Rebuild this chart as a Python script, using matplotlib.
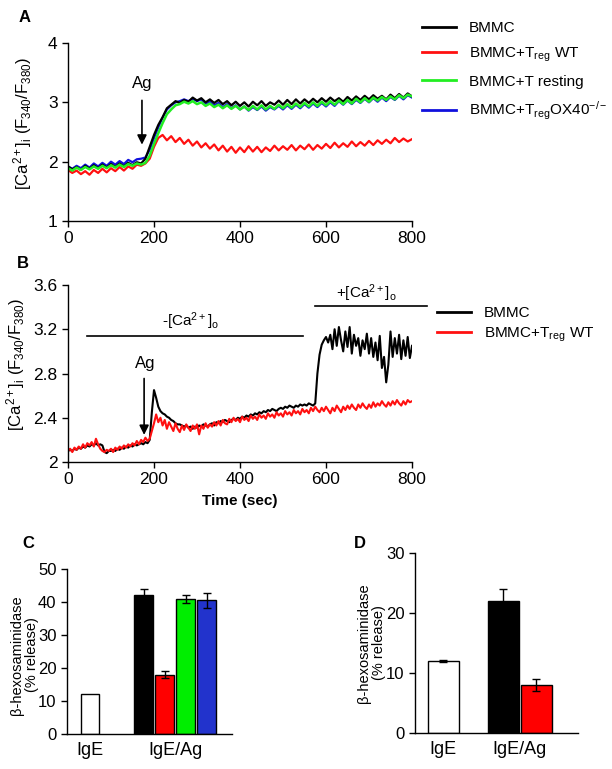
import numpy as np
import matplotlib
matplotlib.use('Agg')
import matplotlib.pyplot as plt

plt.rcParams['font.family'] = ['Liberation Sans', 'DejaVu Sans']
plt.rcParams['mathtext.fontset'] = 'custom'
plt.rcParams['mathtext.rm'] = 'Liberation Sans'
plt.rcParams['mathtext.it'] = 'Liberation Sans:italic'
plt.rcParams['mathtext.bf'] = 'Liberation Sans:bold'

# ---------------- data ----------------
# Panel A: ratio traces, sampled every 10 s from 0 to 800 s
time_a = np.arange(0, 801, 10)
a_bmmc = [1.92, 1.87, 1.91, 1.86, 1.93, 1.88, 1.94, 1.89, 1.95, 1.90,
          1.96, 1.91, 1.97, 1.92, 1.98, 1.94, 1.99, 1.97, 2.05, 2.25,
          2.45, 2.62, 2.75, 2.90, 2.96, 3.02, 2.99, 3.04, 3.01, 3.08,
          3.03, 3.07, 3.00, 3.05, 2.99, 3.04, 2.97, 3.02, 2.95, 3.01,
          2.94, 3.00, 2.93, 3.01, 2.95, 3.02, 2.94, 3.00, 2.96, 3.03,
          2.96, 3.04, 2.97, 3.05, 2.98, 3.05, 2.99, 3.06, 3.00, 3.07,
          3.01, 3.08, 3.02, 3.07, 3.01, 3.09, 3.03, 3.10, 3.04, 3.11,
          3.05, 3.12, 3.06, 3.11, 3.05, 3.13, 3.07, 3.14, 3.08, 3.15,
          3.10]
a_treg_wt = [1.86, 1.81, 1.85, 1.79, 1.84, 1.78, 1.86, 1.81, 1.88, 1.82,
             1.89, 1.84, 1.91, 1.85, 1.92, 1.88, 1.95, 1.93, 1.97, 2.05,
             2.25, 2.40, 2.45, 2.36, 2.43, 2.33, 2.40, 2.30, 2.37, 2.27,
             2.34, 2.24, 2.31, 2.22, 2.29, 2.19, 2.27, 2.17, 2.25, 2.15,
             2.24, 2.16, 2.26, 2.17, 2.25, 2.16, 2.24, 2.18, 2.27, 2.19,
             2.26, 2.20, 2.28, 2.19, 2.27, 2.21, 2.29, 2.20, 2.28, 2.22,
             2.30, 2.23, 2.32, 2.24, 2.31, 2.25, 2.34, 2.26, 2.33, 2.27,
             2.35, 2.28, 2.36, 2.30, 2.37, 2.31, 2.40, 2.33, 2.39, 2.34,
             2.38]
a_t_resting = [1.89, 1.85, 1.90, 1.86, 1.91, 1.87, 1.92, 1.88, 1.93, 1.89,
               1.94, 1.90, 1.95, 1.91, 1.96, 1.93, 1.97, 1.95, 1.98, 2.10,
               2.30, 2.48, 2.65, 2.80, 2.88, 2.95, 2.97, 3.01, 2.98, 3.02,
               2.97, 3.00, 2.94, 2.98, 2.92, 2.96, 2.90, 2.95, 2.89, 2.94,
               2.88, 2.93, 2.87, 2.94, 2.88, 2.95, 2.88, 2.94, 2.89, 2.96,
               2.90, 2.97, 2.91, 2.98, 2.92, 2.99, 2.93, 3.00, 2.94, 3.01,
               2.95, 3.02, 2.96, 3.03, 2.97, 3.04, 2.98, 3.06, 3.00, 3.07,
               3.01, 3.08, 3.03, 3.09, 3.04, 3.10, 3.05, 3.12, 3.07, 3.13,
               3.10]
a_treg_ox40 = [1.92, 1.88, 1.93, 1.89, 1.95, 1.90, 1.97, 1.92, 1.98, 1.93,
               2.00, 1.95, 2.01, 1.96, 2.03, 1.99, 2.04, 2.05, 2.07, 2.20,
               2.40, 2.58, 2.74, 2.88, 2.95, 3.00, 3.02, 3.05, 3.02, 3.06,
               3.02, 3.05, 2.98, 3.01, 2.95, 2.99, 2.92, 2.97, 2.90, 2.95,
               2.88, 2.93, 2.86, 2.92, 2.87, 2.93, 2.86, 2.92, 2.88, 2.94,
               2.88, 2.95, 2.89, 2.96, 2.90, 2.97, 2.91, 2.98, 2.92, 2.99,
               2.93, 3.00, 2.94, 3.02, 2.96, 3.03, 2.97, 3.04, 2.99, 3.06,
               3.00, 3.07, 3.01, 3.08, 3.02, 3.09, 3.04, 3.11, 3.05, 3.12,
               3.08]

# Panel B: ratio traces, sampled every 5 s from 0 to 800 s
time_b = np.arange(0, 801, 5)
b_bmmc = [2.10, 2.11, 2.10, 2.12, 2.11, 2.13, 2.12, 2.14, 2.13, 2.15,
          2.14, 2.16, 2.15, 2.17, 2.15, 2.16, 2.15, 2.09, 2.08, 2.10,
          2.10, 2.11, 2.10, 2.12, 2.11, 2.13, 2.12, 2.14, 2.13, 2.15,
          2.14, 2.16, 2.15, 2.16, 2.17, 2.16, 2.18, 2.17, 2.20, 2.45,
          2.65, 2.58, 2.50, 2.46, 2.44, 2.43, 2.41, 2.40, 2.38, 2.37,
          2.35, 2.34, 2.34, 2.33, 2.32, 2.33, 2.31, 2.32, 2.30, 2.32,
          2.31, 2.33, 2.32, 2.34, 2.33, 2.32, 2.34, 2.35, 2.33, 2.36,
          2.35, 2.37, 2.36, 2.38, 2.37, 2.36, 2.38, 2.39, 2.38, 2.40,
          2.39, 2.41, 2.40, 2.42, 2.41, 2.43, 2.42, 2.44, 2.43, 2.45,
          2.44, 2.46, 2.45, 2.47, 2.46, 2.48, 2.47, 2.46, 2.48, 2.49,
          2.48, 2.50, 2.49, 2.51, 2.50, 2.49, 2.51, 2.50, 2.52, 2.51,
          2.52, 2.51, 2.53, 2.52, 2.51, 2.53, 2.80, 2.97, 3.06, 3.10,
          3.13, 3.08, 3.15, 3.02, 3.20, 3.05, 3.22, 3.10, 3.00, 3.18,
          3.04, 3.22, 2.98, 3.15, 3.05, 3.12, 2.96, 3.10, 3.02, 3.16,
          2.98, 3.12, 2.95, 3.08, 2.92, 3.14, 2.85, 2.95, 2.72, 2.88,
          3.18, 2.95, 3.12, 2.98, 3.15, 2.93, 3.10, 2.96, 3.13, 2.94,
          3.05]
b_treg_wt = [2.10, 2.12, 2.09, 2.13, 2.11, 2.14, 2.12, 2.16, 2.13, 2.17,
             2.15, 2.18, 2.14, 2.21, 2.16, 2.12, 2.10, 2.09, 2.11, 2.10,
             2.12, 2.09, 2.13, 2.11, 2.14, 2.12, 2.15, 2.13, 2.16, 2.14,
             2.17, 2.15, 2.19, 2.16, 2.20, 2.18, 2.22, 2.19, 2.21, 2.28,
             2.35, 2.43, 2.36, 2.40, 2.33, 2.38, 2.30, 2.36, 2.32, 2.28,
             2.35, 2.30, 2.27, 2.33, 2.29, 2.34, 2.31, 2.28, 2.33, 2.30,
             2.34, 2.25, 2.33, 2.30, 2.35, 2.31, 2.34, 2.32, 2.36, 2.33,
             2.37, 2.33, 2.38, 2.35, 2.34, 2.39, 2.36, 2.40, 2.37, 2.39,
             2.36, 2.41, 2.38, 2.40, 2.37, 2.42, 2.39, 2.41, 2.38, 2.43,
             2.40, 2.42, 2.39, 2.44, 2.41, 2.43, 2.40, 2.45, 2.42, 2.44,
             2.41, 2.46, 2.43, 2.45, 2.42, 2.47, 2.44, 2.46, 2.43, 2.48,
             2.45, 2.47, 2.44, 2.49, 2.46, 2.50, 2.47, 2.45, 2.49, 2.46,
             2.50, 2.47, 2.44, 2.49, 2.46, 2.51, 2.48, 2.45, 2.50, 2.47,
             2.51, 2.48, 2.52, 2.49, 2.47, 2.52, 2.49, 2.53, 2.50, 2.48,
             2.52, 2.49, 2.54, 2.50, 2.53, 2.51, 2.55, 2.52, 2.50, 2.54,
             2.51, 2.55, 2.52, 2.56, 2.53, 2.51, 2.55, 2.52, 2.56, 2.54,
             2.55]

# Panel C: beta-hexosaminidase release (%)
c_values = [12, 42, 18, 41, 40.5]
c_errors = [0, 1.8, 1.0, 1.2, 2.2]
c_colors = ['white', 'black', 'red', '#00ee00', '#2233cc']

# Panel D
d_values = [12, 22, 8]
d_errors = [0.2, 2.0, 1.0]
d_colors = ['white', 'black', 'red']

group_labels = ['IgE', 'IgE/Ag']
legend_a = ['BMMC', r'BMMC+T$_{\mathrm{reg}}$ WT', 'BMMC+T resting',
            r'BMMC+T$_{\mathrm{reg}}$OX40$^{\mathrm{-/-}}$']
legend_b = ['BMMC', r'BMMC+T$_{\mathrm{reg}}$ WT']

ylabel_ratio = r'[Ca$^{2+}$]$_{\mathrm{i}}$ (F$_{340}$/F$_{380}$)'
ylabel_hex = 'β-hexosaminidase\n(% release)'

# ---------------- layout ----------------
W, H = 612, 769
fig = plt.figure(figsize=(W / 100, H / 100), dpi=100)


def px_axes(left, top, right, bottom):
    return fig.add_axes([left / W, 1 - bottom / H, (right - left) / W, (bottom - top) / H])


def style(ax, size=12.5):
    ax.spines['top'].set_visible(False)
    ax.spines['right'].set_visible(False)
    ax.tick_params(direction='out', labelsize=size, length=4, width=1)
    for s in ['left', 'bottom']:
        ax.spines[s].set_linewidth(1)


# Panel A
ax_a = px_axes(68, 43, 412, 221)
ax_a.plot(time_a, a_treg_wt, color='#ff1010', lw=1.6)
ax_a.plot(time_a, a_treg_ox40, color='#1010dd', lw=1.6)
ax_a.plot(time_a, a_bmmc, color='black', lw=1.6)
ax_a.plot(time_a, a_t_resting, color='#22ee22', lw=1.8)
ax_a.set_xlim(0, 800)
ax_a.set_ylim(1, 4)
ax_a.set_xticks([0, 200, 400, 600, 800])
ax_a.set_yticks([1, 2, 3, 4])
ax_a.set_ylabel(ylabel_ratio, fontsize=12)
ax_a.yaxis.set_label_coords(-0.1, 0.55)
style(ax_a)
ax_a.annotate('', xy=(172, 2.24), xytext=(172, 3.08),
              arrowprops=dict(arrowstyle='-|>', color='black', lw=1.2, mutation_scale=14))
ax_a.text(172, 3.32, 'Ag', ha='center', va='center', fontsize=12)

handles_a = [plt.Line2D([], [], color=c, lw=2) for c in ['black', '#ff1010', '#22ee22', '#1010dd']]
fig.legend(handles_a, legend_a, loc='upper left', bbox_to_anchor=(422 / W, 1 - 21 / H),
           frameon=False, fontsize=11, handlelength=2.2, handletextpad=0.85,
           labelspacing=0.7, borderpad=0, borderaxespad=0)

# Panel B
ax_b = px_axes(68, 285, 412, 462)
ax_b.plot(time_b, b_bmmc, color='black', lw=1.5)
ax_b.plot(time_b, b_treg_wt, color='#ff1010', lw=1.5)
ax_b.set_xlim(0, 800)
ax_b.set_ylim(2, 3.6)
ax_b.set_xticks([0, 200, 400, 600, 800])
ax_b.set_yticks([2, 2.4, 2.8, 3.2, 3.6])
ax_b.set_yticklabels(['2', '2.4', '2.8', '3.2', '3.6'])
ax_b.set_ylabel(ylabel_ratio, fontsize=12)
ax_b.yaxis.set_label_coords(-0.118, 0.55)
ax_b.set_xlabel('Time (sec)', fontsize=11, fontweight='bold', labelpad=5)
style(ax_b)
ax_b.annotate('', xy=(177, 2.22), xytext=(177, 2.78),
              arrowprops=dict(arrowstyle='-|>', color='black', lw=1.2, mutation_scale=14))
ax_b.text(179, 2.89, 'Ag', ha='center', va='center', fontsize=12)
ax_b.plot([45, 547], [3.14, 3.14], color='black', lw=1.2, clip_on=False)
ax_b.text(284, 3.27, r'-[Ca$^{2+}$]$_{\mathrm{o}}$', ha='center', va='center', fontsize=11)
ax_b.plot([574, 835], [3.41, 3.41], color='black', lw=1.2, clip_on=False)
ax_b.text(695, 3.53, r'+[Ca$^{2+}$]$_{\mathrm{o}}$', ha='center', va='center', fontsize=11)

handles_b = [plt.Line2D([], [], color=c, lw=2) for c in ['black', '#ff1010']]
fig.legend(handles_b, legend_b, loc='upper left', bbox_to_anchor=(437 / W, 1 - 306 / H),
           frameon=False, fontsize=11, handlelength=2.2, handletextpad=0.85,
           labelspacing=0.35, borderpad=0, borderaxespad=0)

# Panel C
ax_c = px_axes(67, 569, 232, 734)
c_pos = [-2.55, 0, 1, 2, 3]
ax_c.bar(c_pos, c_values, width=0.88, color=c_colors, edgecolor='black', lw=1, zorder=2)
ax_c.errorbar(c_pos[1:], c_values[1:], yerr=c_errors[1:], fmt='none', ecolor='black',
              elinewidth=1, capsize=3, zorder=3)
ax_c.set_xlim(-3.64, 4.2)
ax_c.set_ylim(0, 50)
ax_c.set_yticks([0, 10, 20, 30, 40, 50])
ax_c.set_xticks([-2.55, 1.5])
ax_c.set_xticklabels(group_labels, fontsize=13)
ax_c.set_ylabel(ylabel_hex, fontsize=10.5, linespacing=1.05)
ax_c.yaxis.set_label_coords(-0.17, 0.48)
style(ax_c, 12)
ax_c.tick_params(axis='x', length=0, pad=6, labelsize=13)

# Panel D
ax_d = px_axes(415, 553, 578, 733)
d_pos = [-1.82, 0, 1]
ax_d.bar(d_pos, d_values, width=0.94, color=d_colors, edgecolor='black', lw=1, zorder=2)
ax_d.errorbar(d_pos, d_values, yerr=d_errors, fmt='none', ecolor='black',
              elinewidth=1, capsize=3, zorder=3)
ax_d.set_xlim(-2.68, 2.27)
ax_d.set_ylim(0, 30)
ax_d.set_yticks([0, 10, 20, 30])
ax_d.set_xticks([-1.82, 0.5])
ax_d.set_xticklabels(group_labels)
ax_d.set_ylabel(ylabel_hex, fontsize=10.5, linespacing=1.05)
ax_d.yaxis.set_label_coords(-0.18, 0.5)
style(ax_d, 12)
ax_d.tick_params(axis='x', length=0, pad=6, labelsize=13)

# panel letters
for letter, x, y in [('A', 25, 18), ('B', 23, 263), ('C', 28, 544), ('D', 360, 544)]:
    fig.text(x / W, 1 - y / H, letter, fontsize=12, fontweight='bold', ha='center', va='center')

fig.savefig('out.png', dpi=100)
